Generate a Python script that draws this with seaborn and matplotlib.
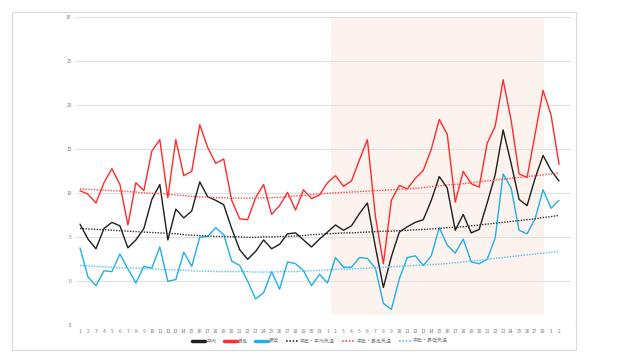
import matplotlib
matplotlib.use("Agg")
import matplotlib.pyplot as plt
import seaborn as sns
import numpy as np
import pandas as pd
from matplotlib.patches import Rectangle

day_labels = [str(d) for d in range(1, 32)] + [str(d) for d in range(1, 29)] + ["1", "2"]

avg_temp = [6.5, 4.8, 3.7, 6.0, 6.7, 6.3, 3.8, 4.7, 6.0, 9.3,
            11.0, 4.7, 8.2, 7.2, 8.0, 11.3, 9.6, 9.2, 8.7, 6.0,
            3.6, 2.5, 3.4, 4.7, 3.7, 4.2, 5.4, 5.5, 4.7, 3.9,
            4.8, 5.6, 6.4, 5.8, 6.3, 7.7, 8.9, 3.9, -0.7, 2.8,
            5.6, 6.2, 6.7, 7.0, 9.2, 11.9, 10.6, 5.8, 7.6, 5.5,
            5.9, 8.9, 12.1, 17.2, 13.4, 9.3, 8.6, 11.7, 14.3, 12.6, 11.4]

max_temp = [10.3, 9.9, 8.9, 11.2, 12.8, 11.0, 6.4, 11.2, 10.3, 14.8,
            16.1, 9.5, 16.1, 12.0, 12.5, 17.8, 15.2, 13.4, 13.9, 9.2,
            7.1, 7.0, 9.5, 11.0, 7.6, 8.6, 10.1, 8.1, 10.4, 9.4,
            9.8, 11.2, 12.0, 10.8, 11.4, 13.8, 16.1, 7.4, 2.0, 9.2,
            10.9, 10.5, 11.7, 12.6, 15.0, 18.4, 16.7, 9.0, 12.5, 11.1,
            10.7, 15.7, 17.6, 22.9, 18.3, 12.2, 11.8, 16.7, 21.7, 18.9, 13.3]

min_temp = [3.8, 0.5, -0.5, 1.2, 1.1, 3.1, 1.4, -0.2, 1.7, 1.5,
            3.9, 0.0, 0.2, 3.3, 1.7, 5.0, 5.1, 6.1, 5.3, 2.3,
            1.8, 0.0, -2.0, -1.3, 1.1, -0.9, 2.2, 2.0, 1.2, -0.5,
            0.8, -0.2, 2.7, 1.6, 1.6, 2.7, 2.6, 1.5, -2.5, -3.2,
            0.3, 2.7, 2.9, 1.8, 2.9, 6.1, 4.1, 3.2, 4.8, 2.2,
            2.0, 2.5, 4.9, 12.2, 10.6, 5.8, 5.4, 7.1, 10.4, 8.3, 9.2]

normal_avg = [6.0, 5.95, 5.9, 5.85, 5.8, 5.75, 5.7, 5.65, 5.6, 5.55,
              5.5, 5.45, 5.4, 5.3, 5.25, 5.2, 5.15, 5.1, 5.1, 5.05,
              5.05, 5.0, 5.0, 5.05, 5.05, 5.1, 5.1, 5.15, 5.2, 5.3,
              5.35, 5.4, 5.45, 5.5, 5.5, 5.55, 5.6, 5.65, 5.7, 5.7,
              5.75, 5.8, 5.85, 5.9, 5.95, 6.0, 6.1, 6.15, 6.2, 6.3,
              6.4, 6.5, 6.6, 6.7, 6.8, 6.9, 7.0, 7.1, 7.25, 7.35, 7.5]

normal_max = [10.5, 10.45, 10.4, 10.35, 10.3, 10.25, 10.2, 10.15, 10.05, 10.0,
              9.95, 9.9, 9.8, 9.75, 9.65, 9.6, 9.55, 9.5, 9.5, 9.45,
              9.45, 9.45, 9.45, 9.5, 9.5, 9.55, 9.6, 9.7, 9.75, 9.85,
              9.9, 10.0, 10.05, 10.1, 10.15, 10.2, 10.25, 10.3, 10.35, 10.4,
              10.45, 10.5, 10.55, 10.65, 10.75, 10.85, 10.95, 11.0, 11.1, 11.2,
              11.3, 11.4, 11.5, 11.6, 11.7, 11.8, 11.9, 12.0, 12.1, 12.2, 12.3]

normal_min = [1.8, 1.75, 1.7, 1.65, 1.6, 1.55, 1.5, 1.5, 1.45, 1.4,
              1.35, 1.3, 1.3, 1.25, 1.2, 1.15, 1.15, 1.1, 1.1, 1.1,
              1.1, 1.1, 1.05, 1.05, 1.05, 1.1, 1.1, 1.1, 1.15, 1.2,
              1.25, 1.3, 1.35, 1.4, 1.4, 1.45, 1.5, 1.55, 1.6, 1.65,
              1.7, 1.75, 1.8, 1.85, 1.9, 1.95, 2.0, 2.1, 2.2, 2.3,
              2.4, 2.5, 2.6, 2.7, 2.8, 2.9, 3.0, 3.1, 3.2, 3.3, 3.4]

series_names = ["平均", "最高", "最低", "平年・平均気温", "平年・最高気温", "平年・最低気温"]
y_ticks = [-5, 0, 5, 10, 15, 20, 25, 30]

sns.set_theme(style="white")
plt.rcParams['font.family'] = ['Noto Sans CJK JP', 'DejaVu Sans']

n = len(day_labels)
idx = np.arange(n)
frames = []
for name, vals in zip(series_names, [avg_temp, max_temp, min_temp, normal_avg, normal_max, normal_min]):
    frames.append(pd.DataFrame({"x": idx, "y": vals, "series": name}))
df = pd.concat(frames, ignore_index=True)

fig = plt.figure(figsize=(6.4, 3.6), dpi=100)
ax = fig.add_axes([76 / 640, 1 - 325.3 / 360, (571 - 76) / 640, (325.3 - 17.3) / 360])

# outer chart border
fig.patches.append(Rectangle((12 / 640, 1 - 350 / 360), (576 - 12) / 640, (350 - 12) / 360,
                             transform=fig.transFigure, fill=False, edgecolor="#d9d9d9", lw=0.8))

ax.set_xlim(-0.5, 61.5)
ax.set_ylim(-5, 30)

# shaded period
ax.axvspan(31.4, 58.1, ymin=(-3.83 + 5) / 35, ymax=1.0, color="#fdf3ee", lw=0, zorder=0)

for yv in y_ticks:
    ax.axhline(yv, color="#e0e0e0", lw=0.8, zorder=0.5)

styles = {
    "平均": dict(color="#1e1e1e", lw=1.0, ls="-"),
    "最高": dict(color="#ff2b2b", lw=1.0, ls="-"),
    "最低": dict(color="#1fb0e8", lw=1.0, ls="-"),
    "平年・平均気温": dict(color="#333333", lw=1.0, ls=(0, (1, 1))),
    "平年・最高気温": dict(color="#ff4a4a", lw=1.0, ls=(0, (1, 1))),
    "平年・最低気温": dict(color="#4cc4f0", lw=1.0, ls=(0, (1, 1))),
}
handles = []
for name in series_names:
    st = styles[name]
    sns.lineplot(data=df[df["series"] == name], x="x", y="y", ax=ax,
                 color=st["color"], lw=st["lw"], linestyle=st["ls"], zorder=3, legend=False)
    hlw = 2.5 if st["ls"] == "-" else 1.2
    handles.append(plt.Line2D([], [], color=st["color"], lw=hlw, linestyle=st["ls"], label=name))

ax.set_xticks(idx)
ax.set_xticklabels(day_labels, fontsize=3.6, color="#7f7f7f")
ax.set_yticks(y_ticks)
ax.set_yticklabels([str(v) for v in y_ticks], fontsize=3.6, color="#7f7f7f")
ax.tick_params(axis="both", length=0, pad=3)
ax.set_xlabel("")
ax.set_ylabel("")
for sp in ax.spines.values():
    sp.set_visible(False)
ax.set_facecolor("none")

fig.legend(handles=handles, loc="center", bbox_to_anchor=(320 / 640, 1 - 341 / 360), ncol=6,
           frameon=False, fontsize=3.6, labelcolor="#7f7f7f", handlelength=2.6,
           columnspacing=1.4, handletextpad=0.25)

fig.savefig("out.png", dpi=100)
